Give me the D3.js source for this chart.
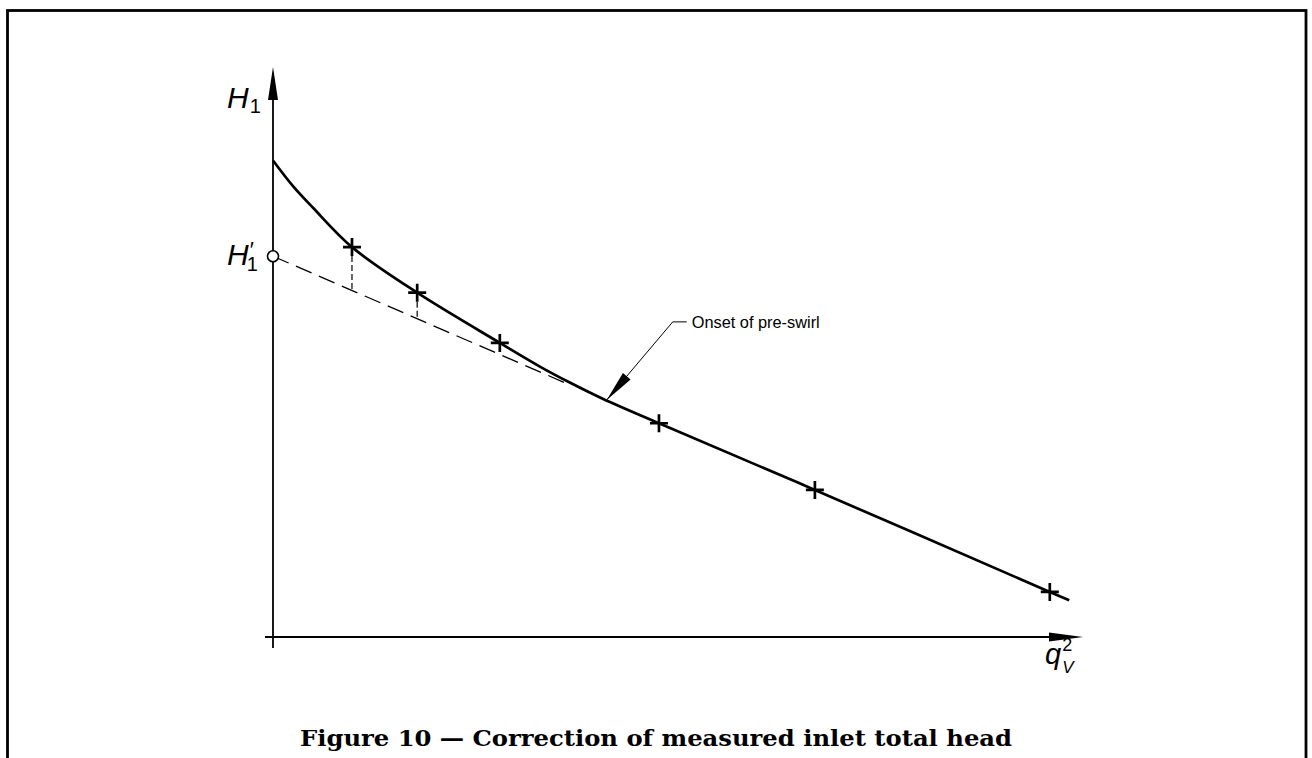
<!DOCTYPE html>
<html><head><meta charset="utf-8">
<script src="https://cdn.jsdelivr.net/npm/d3@7"></script>
<style>html,body{margin:0;padding:0;background:#fff;}svg{display:block;}</style>
</head><body>
<svg id="c" width="1312" height="758"></svg>
<script>
// Data (arbitrary units: qV^2 on x 0..100, H1 on y 0..100)
const crossX = [9.75, 17.8, 28.0, 47.65, 66.9, 95.9];
const crossY = [68.4, 60.4, 51.6, 37.5, 25.8, 7.9];
const curveX = [0, 2.47, 4.94, 9.75, 17.8, 28.0, 33.0, 36.7, 40.7, 47.65, 66.9, 95.9, 98.3];
const curveY = [83.6, 79.1, 75.3, 68.4, 60.4, 51.6, 47.4, 44.6, 41.8, 37.5, 25.8, 7.9, 6.45];
const extX = [0, 36.7];
const extY = [66.8, 44.2];
const dropX = [9.75, 17.8];
const dropTop = [68.4, 60.4];
const dropBottom = [60.8, 55.9];
const h1Prime = 66.8;
const onset = {x: 41.2, y: 41.6};
const labels = {yAxis: "H", yPrime: "H", xAxis: "q", note: "Onset of pre-swirl",
  caption: "Figure 10 — Correction of measured inlet total head"};

const svg = d3.select("#c");
const x = d3.scaleLinear().domain([0, 100]).range([273, 1083]);
const y = d3.scaleLinear().domain([0, 100]).range([637, 67]);

// frame
svg.append("rect").attr("x", 7.5).attr("y", 10.5).attr("width", 1298.5).attr("height", 800)
  .attr("fill", "none").attr("stroke", "#000").attr("stroke-width", 2.8);

// axes
svg.append("line").attr("x1", x(0)).attr("x2", x(0)).attr("y1", y(0) + 11).attr("y2", y(100) + 25)
  .attr("stroke", "#000").attr("stroke-width", 1.8);
svg.append("path").attr("d", `M${x(0)},${y(100)} L${x(0)-5},${y(100)+33} L${x(0)+5},${y(100)+33}Z`).attr("fill", "#000");
svg.append("line").attr("x1", x(0) - 8).attr("x2", x(100) - 25).attr("y1", y(0)).attr("y2", y(0))
  .attr("stroke", "#000").attr("stroke-width", 1.8);
svg.append("path").attr("d", `M${x(100)},${y(0)} L${x(100)-34},${y(0)-4.5} L${x(100)-34},${y(0)+4.5}Z`).attr("fill", "#000");

// dashed extension
svg.append("path").attr("d", d3.line().x(d => x(d[0])).y(d => y(d[1]))(extX.map((v, i) => [v, extY[i]])))
  .attr("fill", "none").attr("stroke", "#000").attr("stroke-width", 1.3).attr("stroke-dasharray", "17,8");
// drops
dropX.forEach((v, i) => {
  svg.append("line").attr("x1", x(v)).attr("x2", x(v)).attr("y1", y(dropTop[i])).attr("y2", y(dropBottom[i]))
    .attr("stroke", "#000").attr("stroke-width", 1.2).attr("stroke-dasharray", "6,3");
});

// main curve
svg.append("path").attr("d", d3.line().x(d => x(d[0])).y(d => y(d[1])).curve(d3.curveCatmullRom.alpha(0.5))(curveX.map((v, i) => [v, curveY[i]])))
  .attr("fill", "none").attr("stroke", "#000").attr("stroke-width", 2.7);

// crosses
crossX.forEach((v, i) => {
  const cx = x(v), cy = y(crossY[i]);
  svg.append("path").attr("d", `M${cx-9},${cy} L${cx+9},${cy} M${cx},${cy-9} L${cx},${cy+9}`)
    .attr("stroke", "#000").attr("stroke-width", 2.7).attr("fill", "none");
});

// H1' circle
svg.append("circle").attr("cx", x(0)).attr("cy", y(h1Prime)).attr("r", 5.5)
  .attr("fill", "#fff").attr("stroke", "#000").attr("stroke-width", 1.6);

// axis labels
const sans = "'Liberation Sans', Arial, sans-serif";
const yl = svg.append("text").attr("x", 227).attr("y", 108).attr("font-family", sans).attr("fill", "#000");
yl.append("tspan").attr("font-style", "italic").attr("font-size", 30).text(labels.yAxis);
yl.append("tspan").attr("font-size", 20).attr("dy", 5).attr("dx", 1).text("1");

const yp = svg.append("text").attr("x", 227).attr("y", 265).attr("font-family", sans).attr("fill", "#000");
yp.append("tspan").attr("font-style", "italic").attr("font-size", 30).text(labels.yPrime);
yp.append("tspan").attr("font-size", 22).attr("dx", 1).attr("dy", -8).text("′");
yp.append("tspan").attr("font-size", 20).attr("dx", -7).attr("dy", 14).text("1");

const xl = svg.append("text").attr("x", 1045).attr("y", 664).attr("font-family", sans).attr("fill", "#000");
xl.append("tspan").attr("font-style", "italic").attr("font-size", 29).text(labels.xAxis);
xl.append("tspan").attr("font-size", 18).attr("dx", 1).attr("dy", -13).text("2");
xl.append("tspan").attr("font-size", 17).attr("font-style", "italic").attr("dx", -10).attr("dy", 22).text("V");

// annotation
const tipX = x(onset.x), tipY = y(onset.y);
const elbowX = tipX + 66, elbowY = tipY - 78;
svg.append("path").attr("d", `M${tipX},${tipY} L${elbowX},${elbowY} L${elbowX + 14},${elbowY}`)
  .attr("fill", "none").attr("stroke", "#000").attr("stroke-width", 1);
{
  const dx = elbowX - tipX, dy = elbowY - tipY, L = Math.hypot(dx, dy);
  const ux = dx / L, uy = dy / L, bx = tipX + ux * 31, by = tipY + uy * 31;
  const px = -uy * 5, py = ux * 5;
  svg.append("path").attr("d", `M${tipX},${tipY} L${bx+px},${by+py} L${bx-px},${by-py}Z`).attr("fill", "#000");
}
svg.append("text").attr("x", elbowX + 19).attr("y", elbowY + 6).attr("font-family", sans)
  .attr("font-size", 17).attr("textLength", 128).attr("lengthAdjust", "spacingAndGlyphs")
  .attr("fill", "#000").text(labels.note);

// caption
svg.append("text").attr("x", 300).attr("y", 746).attr("font-family", "'DejaVu Serif', serif")
  .attr("font-weight", "bold").attr("font-size", 23).attr("textLength", 712).attr("lengthAdjust", "spacingAndGlyphs")
  .attr("fill", "#000").text(labels.caption);
</script>
</body></html>
